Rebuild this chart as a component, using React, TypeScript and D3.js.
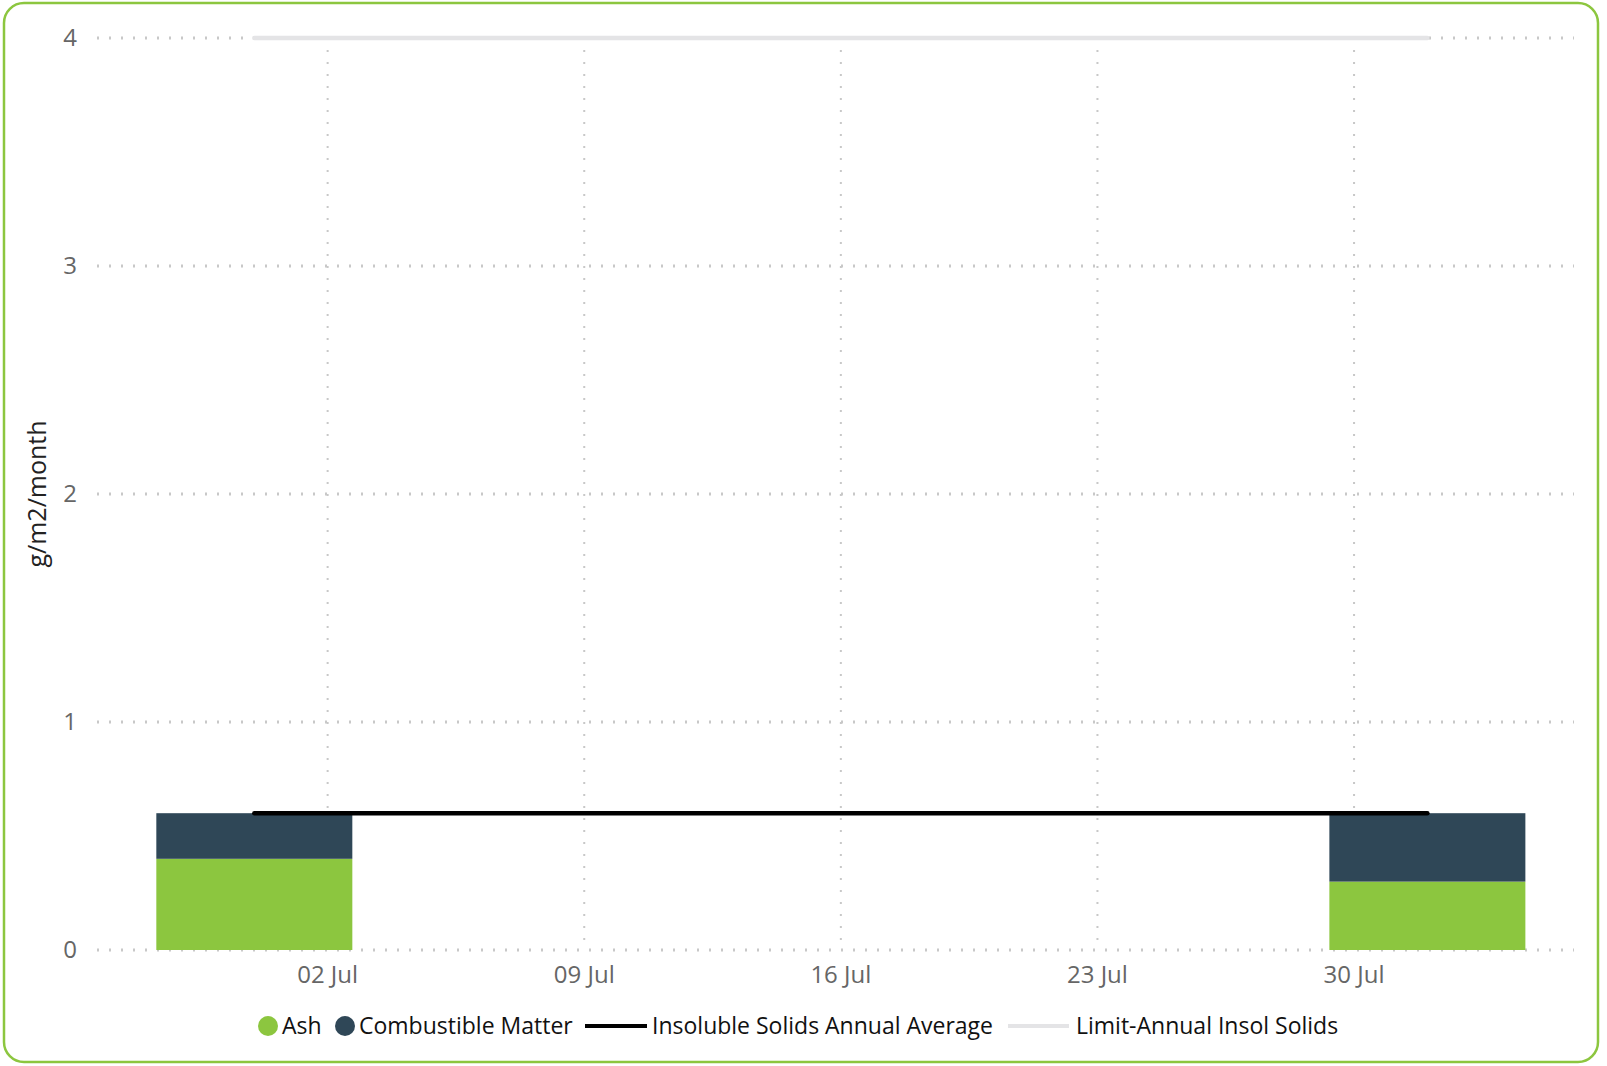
import React from "react";
import * as d3 from "d3";

const W = 1607;
const H = 1066;

// ---- data ----
const dates = ["2023-06-30", "2023-08-01"];
const ash = [0.4, 0.3];
const combustible = [0.2, 0.3];
const annualAverage = [0.6, 0.6];
const limitAnnual = [4, 4];
const yTicks = [0, 1, 2, 3, 4];
const xTickDates = ["2023-07-02", "2023-07-09", "2023-07-16", "2023-07-23", "2023-07-30"];
const legendLabels = ["Ash", "Combustible Matter", "Insoluble Solids Annual Average", "Limit-Annual Insol Solids"];

// ---- style ----
const GREEN = "#8cc63f";
const DARK = "#2f4757";
const LIMIT = "#e4e4e6";
const GRID = "#c8c8c8";
const FONT = "'Open Sans', 'Noto Sans', sans-serif";

const parse = d3.timeParse("%Y-%m-%d");
const fmt = d3.timeFormat("%d %b");

export default function App() {
  const margin = { left: 97, right: 1574, top: 38, bottom: 950 };
  const x = d3
    .scaleTime()
    .domain([new Date(2023, 5, 25, 17), new Date(2023, 7, 5, 0)])
    .range([margin.left, margin.right]);
  const y = d3.scaleLinear().domain([0, 4]).range([margin.bottom, margin.top]);
  const barW = 196;

  const rows = dates.map((d, i) => ({
    date: parse(d) as Date,
    ash: ash[i],
    comb: combustible[i],
    avg: annualAverage[i],
    lim: limitAnnual[i],
  }));

  const stack = d3.stack<any>().keys(["ash", "comb"])(rows as any);
  const colors = [GREEN, DARK];

  const avgLine = d3
    .line<any>()
    .x((d) => x(d.date))
    .y((d) => y(d.avg));
  const limLine = d3
    .line<any>()
    .x((d) => x(d.date))
    .y((d) => y(d.lim));

  // legend layout
  const legY = 1026;
  const legendItems = [
    { type: "dot", color: GREEN, sx: 268, tx: 282 },
    { type: "dot", color: DARK, sx: 345, tx: 359 },
    { type: "line", color: "#000", sx: 585, ex: 647, tx: 652 },
    { type: "line", color: LIMIT, sx: 1008, ex: 1069, tx: 1076 },
  ];

  return (
    <svg
      width={W}
      height={H}
      style={{ position: "absolute", left: 0, top: 0, display: "block", background: "#fff" }}
      fontFamily={FONT}
    >
      <rect x={4} y={3} width={1594} height={1059} rx={20} ry={20} fill="#fff" stroke={GREEN} strokeWidth={2.5} />

      {/* horizontal grid */}
      {yTicks.map((t) => (
        <line
          key={"h" + t}
          x1={margin.left}
          x2={margin.right}
          y1={y(t)}
          y2={y(t)}
          stroke={GRID}
          strokeWidth={3}
          strokeDasharray="2 10"
        />
      ))}
      {/* vertical grid */}
      {xTickDates.map((d) => {
        const xv = x(parse(d) as Date);
        return (
          <line
            key={"v" + d}
            x1={xv}
            x2={xv}
            y1={y(4) + 12}
            y2={y(0)}
            stroke={GRID}
            strokeWidth={2}
            strokeDasharray="2 10"
          />
        );
      })}

      {/* y tick labels */}
      {yTicks.map((t) => (
        <text key={"yl" + t} x={77} y={y(t)} dy="0.35em" textAnchor="end" fontSize={24} fill="#666">
          {t}
        </text>
      ))}
      {/* y title */}
      <text
        transform={`translate(46, 494) rotate(-90)`}
        textAnchor="middle"
        fontSize={25}
        fill="#222"
      >
        g/m2/month
      </text>

      {/* x tick labels */}
      {xTickDates.map((d) => {
        const xv = x(parse(d) as Date);
        return (
          <text key={"xl" + d} x={xv} y={975} dy="0.35em" textAnchor="middle" fontSize={24} fill="#666">
            {fmt(parse(d) as Date)}
          </text>
        );
      })}

      {/* bars */}
      {stack.map((s, si) =>
        s.map((seg: any, i: number) => (
          <rect
            key={`b${si}-${i}`}
            x={x(rows[i].date) - barW / 2}
            width={barW}
            y={y(seg[1])}
            height={y(seg[0]) - y(seg[1])}
            fill={colors[si]}
          />
        ))
      )}

      {/* lines */}
      <path d={limLine(rows) || ""} fill="none" stroke={LIMIT} strokeWidth={4.5} strokeLinecap="round" />
      <path d={avgLine(rows) || ""} fill="none" stroke="#000" strokeWidth={4.5} strokeLinecap="round" />

      {/* legend */}
      {legendItems.map((it, i) => (
        <g key={"lg" + i}>
          {it.type === "dot" ? (
            <circle cx={it.sx} cy={legY} r={10} fill={it.color} />
          ) : (
            <line x1={it.sx} x2={it.ex} y1={legY} y2={legY} stroke={it.color} strokeWidth={4} />
          )}
          <text x={it.tx} y={legY} dy="0.35em" fontSize={23} fill="#111">
            {legendLabels[i]}
          </text>
        </g>
      ))}
    </svg>
  );
}
